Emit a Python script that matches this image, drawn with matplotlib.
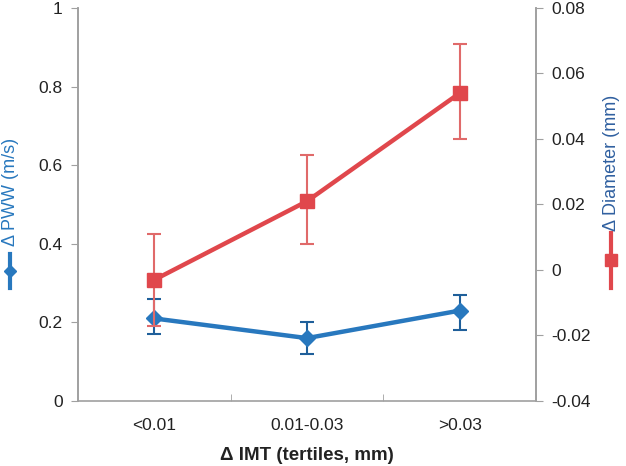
import matplotlib.pyplot as plt
from matplotlib.lines import Line2D

plt.rcParams['font.family'] = ['Liberation Sans', 'DejaVu Sans']

# data
categories = ['<0.01', '0.01-0.03', '>0.03']
pww = [0.21, 0.16, 0.23]
pww_lo = [0.17, 0.12, 0.18]
pww_hi = [0.26, 0.20, 0.27]
diam = [-0.003, 0.021, 0.054]
diam_lo = [-0.017, 0.008, 0.040]
diam_hi = [0.011, 0.035, 0.069]

blue = '#2878BE'
blue_err = '#1F5F9A'
red = '#E0474C'
red_err = '#E06A6A'
grey = '#A0A0A0'

W, H = 626, 466
fig = plt.figure(figsize=(W / 100, H / 100), dpi=100)
ax = fig.add_axes([78 / W, 1 - 401 / H, (536 - 78) / W, (401 - 8) / H])
ax2 = ax.twinx()

x = range(len(categories))
ax.errorbar(x, pww,
            yerr=[[p - l for p, l in zip(pww, pww_lo)], [h - p for p, h in zip(pww, pww_hi)]],
            fmt='none', ecolor=blue_err, elinewidth=1.5, capsize=5, capthick=1.5, zorder=2)
ax.plot(x, pww, color=blue, lw=3.2, marker='D', ms=8, zorder=3)

ax2.errorbar(x, diam,
             yerr=[[d - l for d, l in zip(diam, diam_lo)], [h - d for d, h in zip(diam, diam_hi)]],
             fmt='none', ecolor=red_err, elinewidth=1.5, capsize=5, capthick=1.5, zorder=2)
ax2.plot(x, diam, color=red, lw=3.2, marker='s', ms=10, zorder=3)

ax.set_xlim(-0.5, 2.5)
ax.set_ylim(0, 1)
ax2.set_ylim(-0.04, 0.08)
ax.set_yticks([0, 0.2, 0.4, 0.6, 0.8, 1])
ax.set_yticklabels(['0', '0.2', '0.4', '0.6', '0.8', '1'])
ax2.set_yticks([-0.04, -0.02, 0, 0.02, 0.04, 0.06, 0.08])
ax2.set_yticklabels(['-0.04', '-0.02', '0', '0.02', '0.04', '0.06', '0.08'])

ax.set_xticks(list(x))
ax.set_xticklabels(categories)
ax.set_xticks([0.5, 1.5, 2.5], minor=True)
ax.tick_params(axis='x', which='major', length=0, labelsize=12.5, pad=12, colors='#222222')
ax.tick_params(axis='x', which='minor', length=5, direction='in', color=grey)
ax.tick_params(axis='y', length=5, color=grey, labelsize=12.5, labelcolor='#222222', pad=6)
ax2.tick_params(axis='y', length=5, color=grey, labelsize=12.5, labelcolor='#222222', pad=6)

for a in (ax, ax2):
    a.spines['top'].set_visible(False)
    for s in ('left', 'right', 'bottom'):
        a.spines[s].set_color(grey)
        a.spines[s].set_linewidth(1.2)
ax2.spines['bottom'].set_visible(False)

ax.set_xlabel('Δ IMT (tertiles, mm)', fontsize=13.5, fontweight='bold', color='#222222')
ax.xaxis.set_label_coords(0.5, -0.118)

# axis titles with legend-style icons
fig.text(11 / W, 1 - 192 / H, 'Δ PWW (m/s)', rotation=90, ha='center', va='center',
         fontsize=13, color=blue)
fig.add_artist(Line2D([10 / W, 10 / W, 10 / W], [1 - 288 / H, 1 - 271 / H, 1 - 254 / H],
                      color=blue, lw=3, marker='D', ms=6, markevery=[1],
                      transform=fig.transFigure))

fig.text(611 / W, 1 - 163 / H, 'Δ Diameter (mm)', rotation=90, ha='center', va='center',
         fontsize=13, color='#3060A0')
fig.add_artist(Line2D([611 / W, 611 / W, 611 / W], [1 - 288 / H, 1 - 260 / H, 1 - 233 / H],
                      color=red, lw=3, marker='s', ms=9, markevery=[1],
                      transform=fig.transFigure))

fig.savefig('out.png', dpi=100)
